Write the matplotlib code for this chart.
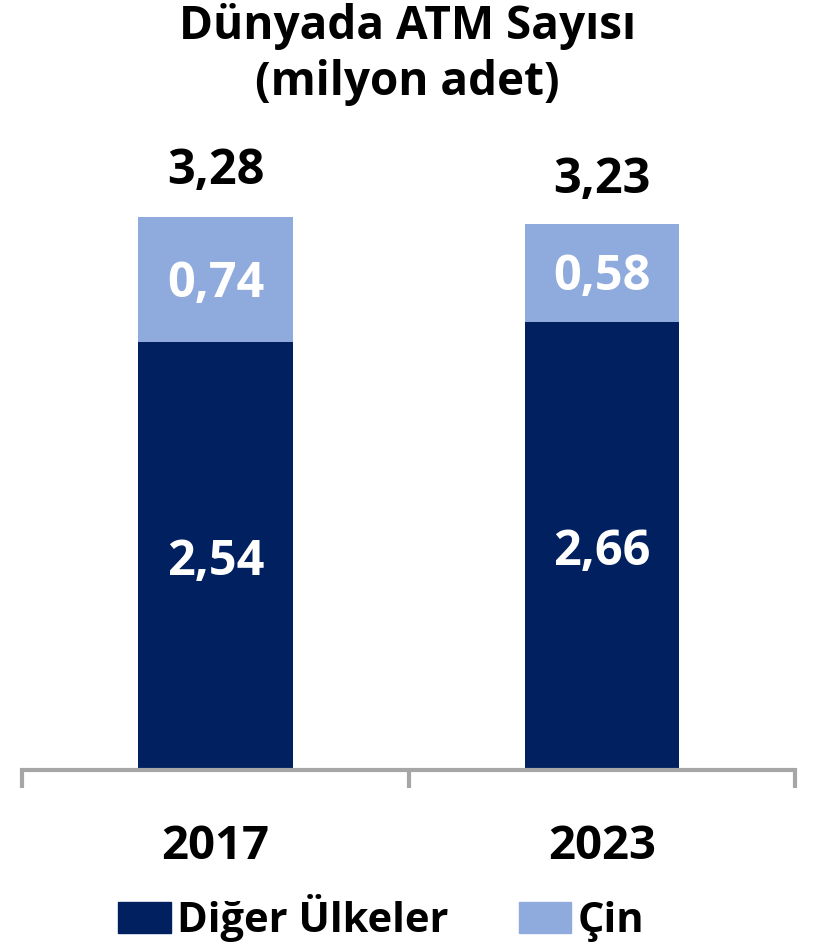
import matplotlib
matplotlib.use('Agg')
from matplotlib import pyplot as plt
from matplotlib.patches import Patch

# data
years = ['2017', '2023']
diger = [2.54, 2.66]
cin = [0.74, 0.58]
toplam = [3.28, 3.23]

navy = '#002060'
light = '#8FAADC'
gray = '#A6A6A6'

plt.rcParams['font.family'] = ['Open Sans', 'DejaVu Sans']
plt.rcParams['font.weight'] = 'bold'

fig = plt.figure(figsize=(8.2, 9.44), dpi=100)
ax = fig.add_axes([0.027, 0.184, 0.943, 0.643])

x = range(len(years))
ax.bar(x, diger, width=0.4, color=navy)
ax.bar(x, cin, width=0.4, bottom=diger, color=light)

for i in x:
    ax.text(i, diger[i] / 2 - 0.04, f'{diger[i]:.2f}'.replace('.', ','), ha='center', va='center',
            color='white', fontsize=35, fontweight='bold')
    ax.text(i, diger[i] + cin[i] / 2 - 0.03, f'{cin[i]:.2f}'.replace('.', ','), ha='center', va='center',
            color='white', fontsize=35, fontweight='bold')
    ax.text(i, toplam[i] + 0.27, f'{toplam[i]:.2f}'.replace('.', ','), ha='center', va='center',
            color='black', fontsize=35, fontweight='bold')

ax.set_xlim(-0.5, 1.5)
ax.set_ylim(0, 3.6)
for s in ['top', 'right', 'left']:
    ax.spines[s].set_visible(False)
ax.spines['bottom'].set_color(gray)
ax.spines['bottom'].set_linewidth(3)
ax.set_yticks([])
ax.set_xticks([-0.5, 0.5, 1.5])
ax.set_xticklabels([])
ax.tick_params(axis='x', length=13, width=3, color=gray, direction='out')
ax.set_xticks(list(x), minor=True)
ax.set_xticklabels(years, minor=True, fontsize=34, fontweight='bold')
ax.tick_params(axis='x', which='minor', length=0, pad=38)

fig.text(0.497, 0.997, 'Dünyada ATM Sayısı\n(milyon adet)', ha='center', va='top',
         fontsize=33, fontweight='bold', linespacing=1.25)

handles = [Patch(color=navy, label='Diğer Ülkeler'), Patch(color=light, label='Çin')]
fig.legend(handles=handles, loc='lower center', bbox_to_anchor=(0.465, 0.002), ncol=2,
           frameon=False, prop={'weight': 'bold', 'size': 30}, borderpad=0, borderaxespad=0,
           handlelength=1.25, handleheight=0.75, handletextpad=0.15, columnspacing=1.7)

fig.savefig('out.png', dpi=100)
